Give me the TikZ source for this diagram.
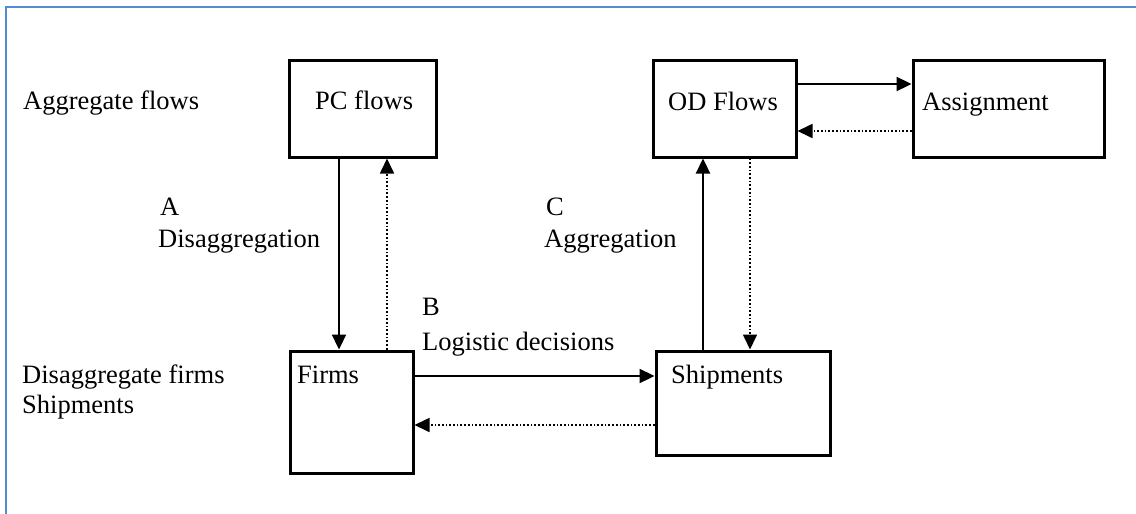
\documentclass[tikz,border=0pt]{standalone}
\usepackage{fontspec}
\newfontfamily\tms{Liberation Serif}
\usetikzlibrary{arrows.meta}
\definecolor{frameblue}{RGB}{84,140,212}
\begin{document}
\begin{tikzpicture}[x=1pt,y=-1pt,
  every node/.style={font=\tms\fontsize{26.5}{30}\selectfont, inner sep=0pt},
  box/.style={draw, line width=3pt, minimum width=#1},
  txt/.style={anchor=base west},
  arr/.style={line width=2.3pt, -{Triangle[length=15pt,width=14pt]}},
  darr/.style={line width=1.7pt, dash pattern=on 1.7pt off 2pt, -{Triangle[length=15pt,width=14pt]}}
]
\useasboundingbox (0,0) rectangle (1136,514);
% frame
\draw[frameblue, line width=2pt] (6,514) -- (6,7) -- (1136,7);

% boxes
\node[box=147pt, minimum height=97pt] (pc) at (362.5,108.5) {};
\node[box=143pt, minimum height=97pt] (od) at (724.5,108.5) {};
\node[box=191pt, minimum height=97pt] (as) at (1008.5,108.5) {};
\node[box=123pt, minimum height=122pt] (fi) at (351.5,412) {};
\node[box=174pt, minimum height=104pt] (sh) at (743,403) {};

% box texts
\node[txt] (pct) at (315,109) {PC flows};
\node[txt] (odt) at (668,110) {OD Flows};
\node[txt] (ast) at (922,110) {Assignment};
\node[txt] (fit) at (297,383) {Firms};
\node[txt] (sht) at (671,383) {Shipments};

% side labels
\node[txt] (agg) at (23,109) {Aggregate flows};
\node[txt] (dis1) at (22,383) {Disaggregate firms};
\node[txt] (dis2) at (22,413) {Shipments};
\node[txt] (la) at (160,215) {A};
\node[txt] (la2) at (158,247) {Disaggregation};
\node[txt] (lc) at (546,215) {C};
\node[txt] (lc2) at (544,247) {Aggregation};
\node[txt] (lb) at (422,315) {B};
\node[txt] (lb2) at (422,350) {Logistic decisions};

% connectors
\draw[arr] ([xshift=-23.5pt]pc.south) -- ([xshift=-23.5pt]pc.south |- fi.north);
\draw[darr] ([xshift=24.5pt]pc.south |- fi.north) -- ([xshift=24.5pt]pc.south);
\draw[arr] ([xshift=-21.5pt]od.south |- sh.north) -- ([xshift=-21.5pt]od.south);
\draw[darr] ([xshift=25.5pt]od.south) -- ([xshift=25.5pt]od.south |- sh.north);
\draw[arr] ([yshift=24.5pt]od.east) -- ([yshift=24.5pt]od.east -| as.west);
\draw[darr] ([yshift=-22.5pt]od.east -| as.west) -- ([yshift=-22.5pt]od.east);
\draw[arr] ([yshift=36pt]fi.east) -- ([yshift=36pt]fi.east -| sh.west);
\draw[darr] ([yshift=-13pt]fi.east -| sh.west) -- ([yshift=-13pt]fi.east);
\end{tikzpicture}
\end{document}
